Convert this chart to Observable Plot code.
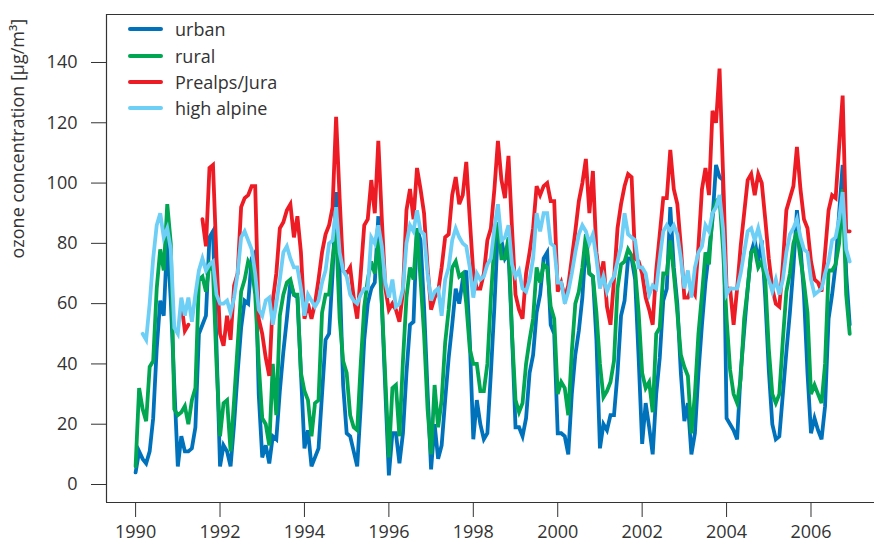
<!DOCTYPE html>
<html>
<head>
<meta charset="utf-8">
<script src="https://cdn.jsdelivr.net/npm/d3@7"></script>
<script src="https://cdn.jsdelivr.net/npm/@observablehq/plot@0.6"></script>
<style>
  html, body { margin: 0; padding: 0; background: #fff; }
  #chart { position: relative; width: 874px; height: 543px; font-family: "Open Sans", sans-serif; color: #333; }
  #chart svg { display: block; }
  .legend { position: absolute; left: 128px; top: 16px; }
  .legend .row { display: flex; align-items: center; height: 26.4px; }
  .legend .swatch { width: 35px; height: 4px; border-radius: 2px; margin-right: 12px; }
  .legend .lbl { font-size: 18px; line-height: 1; color: #333; }
</style>
</head>
<body>
<div id="chart"></div>
<script>
// Monthly mean ozone concentrations, January 1990 to December 2006 (µg/m³)
const firstYear = 1990;

const urban = [
  4, 11, 8.5, 7, 11, 22, 45, 61, 56, 82, 61, 33,
  6, 16, 11, 11, 12, 19, 50, 53, 56, 82, 84, 46,
  6, 13, 11, 6, 20, 37, 52, 61, 60, 75, 77, 30,
  9, 13, 7, 16, 15, 31, 44, 55, 67, 63, 62, 37,
  12, 18, 6, 9, 12, 30, 48, 50, 70, 97, 70, 33,
  17, 16, 11, 6, 26, 48, 60, 65, 67, 89, 60, 31,
  3, 17, 17, 7, 17, 37, 53, 54, 85, 81, 59, 31,
  5, 20, 8.5, 13, 28, 42, 53, 65, 60, 68, 71, 48,
  15, 28, 20, 15, 17, 37, 59, 85, 81, 75, 77, 50,
  19, 19, 16, 22, 37, 43, 57, 63, 75, 77, 53, 50,
  17, 17, 16, 10, 30, 43, 51, 62, 80, 70, 69, 48,
  12, 20, 18, 23, 23, 37, 56, 61, 75, 75, 68, 42,
  13.5, 27, 19, 10, 30, 42, 61, 65, 92, 72, 60, 37,
  21, 27, 10, 17, 37, 53, 67, 77, 88, 106, 102, 101,
  22, 20, 18, 15, 37, 51, 65, 77, 81, 74, 81, 62,
  38, 20, 15, 16, 30, 44, 57, 72, 91, 79, 63, 37,
  17, 22, 18, 15, 26, 55, 63, 73, 90, 106, 70, 53
];

const rural = [
  6, 32, 25, 21, 39, 41, 65, 78, 71, 93, 80, 25,
  23, 24, 26, 20, 28, 32, 68, 69, 64, 73, 71, 40,
  16, 27, 28, 11, 28, 46, 64, 68, 74, 72, 63, 40,
  22, 20, 13, 40, 23, 56, 63, 67, 68, 63, 63, 37,
  31, 28, 16, 27, 28, 57, 63, 63, 75, 84, 55, 41,
  37, 23, 19, 18, 40, 59, 68, 74, 70, 81, 60, 35,
  9, 32, 33, 16, 41, 62, 72, 68, 85, 68, 50, 25,
  10, 33, 19, 28, 47, 58, 72, 74, 69, 70, 60, 45,
  40, 40, 31, 31, 40, 62, 80, 87, 75, 75, 82, 50,
  28, 24, 27, 40, 48, 55, 72, 67, 73, 72, 59, 55,
  30, 34, 32, 23, 44, 60, 64, 72, 83, 70, 69, 57,
  40, 29, 31, 34, 41, 65, 73, 74, 78, 76, 71, 57,
  37, 32, 34, 24, 50, 52, 70, 70, 81, 70, 57, 43,
  39, 36, 17, 30, 50, 63, 77, 73, 90, 94, 95, 78,
  55, 38, 30, 27, 35, 55, 65, 77, 78, 72, 74, 68,
  45, 30, 27, 30, 48, 64, 70, 80, 84, 75, 67, 57,
  30, 33, 30, 27, 40, 71, 71, 73, 80, 98, 63, 50
];

const prealpsJura = [
  null, null, null, null, null, null, null, null, null, null, null, null,
  null, 60, 51, 53, null, null, null, 88, 79, 105, 106, 75,
  50, 46, 56, 48, 66, 70, 92, 95, 96, 99, 99, 55,
  50, 42, 36, 61, 70, 85, 87, 91, 93, 82, 89, 77,
  55, 60, 55, 60, 68, 77, 83, 86, 92, 122, 95, 71,
  70, 72, 62, 55, 70, 86, 88, 101, 90, 114, 88, 65,
  58, 60, 58, 54, 64, 91, 98, 88, 105, 98, 90, 72,
  58, 62, 64, 72, 82, 83, 96, 102, 93, 96, 107, 88,
  70, 65, 65, 70, 81, 85, 98, 114, 101, 95, 109, 85,
  63, 58, 55, 70, 77, 85, 99, 96, 99, 100, 94, 94,
  64, 67, 62, 66, 75, 84, 94, 100, 108, 90, 104, 77,
  68, 74, 59, 53, 68, 85, 93, 99, 103, 102, 75, 74,
  70, 62, 58, 53, 71, 83, 95, 95, 111, 98, 93, 79,
  62, 62, 65, 63, 79, 98, 105, 96, 124, 120, 138, 103,
  65, 65, 53, 65, 79, 90, 101, 103, 96, 103, 100, 88,
  75, 65, 60, 59, 73, 91, 95, 99, 112, 98, 88, 85,
  74, 68, 67, 64, 77, 91, 96, 95, 112, 129, 84, 84
];

const highAlpine = [
  null, null, 50, 48, 60, 75, 86, 90, 82, 85, 78, 52,
  50, 62, 56, 62, 54, 63, 71, 75, 71, 73, 74, 63,
  60, 60, 61, 57, 62, 70, 82, 84, 81, 78, 70, 58,
  56, 61, 62, 53, 60, 68, 77, 79, 75, 72, 72, 65,
  56, 63, 61, 59, 61, 67, 71, 80, 81, 92, 77, 71,
  69, 63, 61, 60, 63, 65, 65, 82, 80, 86, 79, 67,
  62, 68, 59, 60, 65, 80, 86, 84, 91, 84, 83, 70,
  61, 64, 65, 56, 68, 72, 81, 85, 82, 80, 79, 72,
  62, 70, 68, 69, 73, 75, 85, 93, 81, 82, 86, 73,
  69, 71, 65, 64, 68, 75, 90, 84, 90, 90, 80, 79,
  67, 67, 60, 64, 70, 77, 83, 86, 84, 80, 83, 75,
  65, 69, 64, 67, 69, 74, 79, 90, 83, 82, 81, 72,
  72, 70, 63, 66, 65, 75, 84, 86, 84, 86, 83, 75,
  65, 71, 62, 72, 77, 79, 86, 84, 90, 92, 96, 85,
  63, 65, 65, 65, 70, 77, 84, 85, 81, 85, 80, 72,
  68, 64, 68, 63, 68, 77, 83, 85, 88, 82, 78, 77,
  68, 63, 64, 65, 70, 74, 81, 82, 88, 97, 78, 74
];

const seriesNames = ["urban", "rural", "Prealps/Jura", "high alpine"];
const seriesValues = [urban, rural, prealpsJura, highAlpine];
const seriesColors = ["#0072bc", "#00a651", "#ed1c24", "#6dcff6"];

const xTicks = [1990, 1992, 1994, 1996, 1998, 2000, 2002, 2004, 2006];
const yTicks = [0, 20, 40, 60, 80, 100, 120, 140];
const yTitle = "ozone concentration [µg/m³]";

// Scale extents: the plotting box runs a little past the outer ticks
const xDomain = [1989.3106, 2007.5043];
const yDomain = [-5.97, 155.92];

const toRows = values => values.map((v, i) => ({t: firstYear + i / 12, v}));

const ink = "#333";

const lines = seriesValues.map((values, k) =>
  Plot.line(toRows(values), {
    x: "t", y: "v",
    stroke: seriesColors[k],
    strokeWidth: 3.8,
    strokeLinejoin: "miter",
    strokeMiterlimit: 4
  })
);

const chart = Plot.plot({
  width: 874,
  height: 543,
  marginLeft: 106,
  marginRight: 0,
  marginTop: 14,
  marginBottom: 41,
  x: {domain: xDomain},
  y: {domain: yDomain},
  style: {fontFamily: "'Open Sans', sans-serif", fontSize: "18px", color: ink, background: "#fff"},
  marks: [
    ...lines,
    Plot.ruleX([xDomain[0]], {stroke: ink, strokeWidth: 1.2}),
    Plot.ruleY(yDomain, {stroke: ink, strokeWidth: 1.2}),
    Plot.axisY(yTicks, {anchor: "left", tickSize: 15, tickPadding: 14, label: null, stroke: ink, fill: ink, fontSize: 18}),
    Plot.axisX(xTicks, {anchor: "bottom", tickSize: 15, tickPadding: 8, tickFormat: d => String(d), label: null, stroke: ink, fill: ink, fontSize: 18}),
    Plot.text([yTitle], {frameAnchor: "left", rotate: -90, dx: -88, fontSize: 18, fill: ink})
  ]
});

const holder = document.getElementById("chart");
holder.appendChild(chart);

// Legend drawn over the top-left corner of the plotting box
const legend = document.createElement("div");
legend.className = "legend";
seriesNames.forEach((name, k) => {
  const row = document.createElement("div");
  row.className = "row";
  const sw = document.createElement("span");
  sw.className = "swatch";
  sw.style.background = seriesColors[k];
  const lbl = document.createElement("span");
  lbl.className = "lbl";
  lbl.textContent = name;
  row.appendChild(sw);
  row.appendChild(lbl);
  legend.appendChild(row);
});
holder.appendChild(legend);
</script>
</body>
</html>
